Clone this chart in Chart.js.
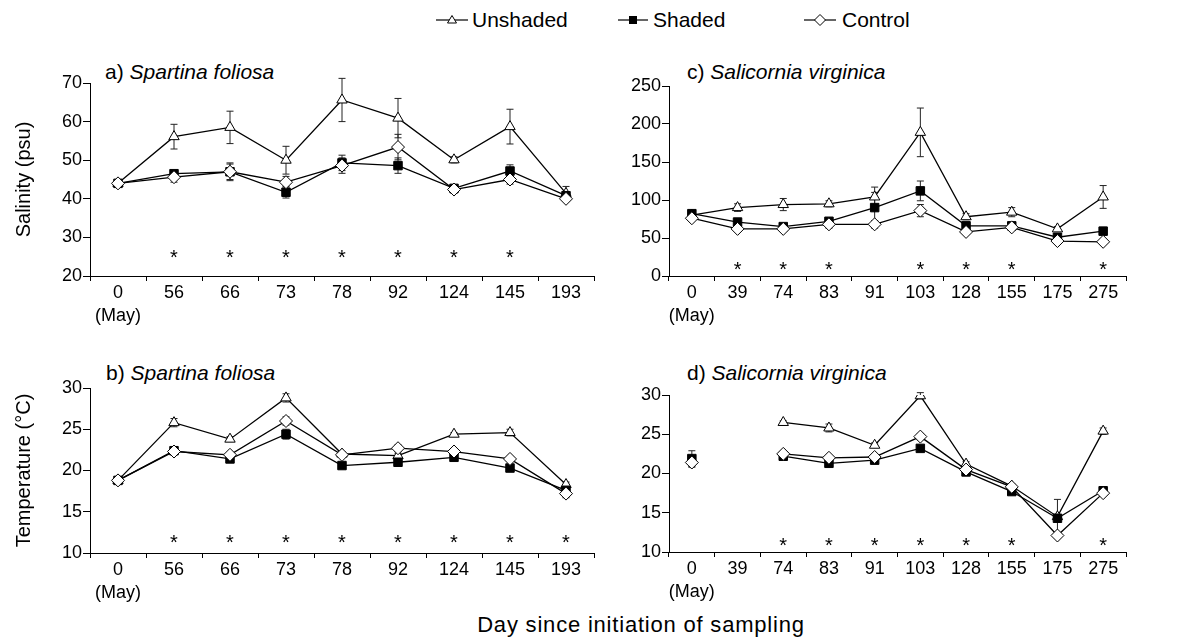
<!DOCTYPE html>
<html>
<head>
<meta charset="utf-8">
<script src="https://cdn.jsdelivr.net/npm/chart.js@4"></script>
<style>
  body { margin: 0; background: #fff; }
  #fig { position: relative; width: 1190px; height: 639px; font-family: 'Liberation Sans', Arial, sans-serif; color: #000; overflow: hidden; }
  .pane { position: absolute; }
  .ttl { position: absolute; font-size: 21px; line-height: 24px; white-space: nowrap; }
  .leg { position: absolute; top: 8px; font-size: 21px; line-height: 24px; white-space: nowrap; }
  .sym { position: absolute; top: 10px; }
  #xtitle { position: absolute; left: 341px; width: 600px; text-align: center; top: 613px; font-size: 22px; line-height: 24px; letter-spacing: 0.8px; white-space: nowrap; }
</style>
</head>
<body>
<div id="fig">
  <svg class="sym" style="left:436px" width="32" height="20"><line x1="0" y1="10" x2="32" y2="10" stroke="#000" stroke-width="1.2"/><polygon points="16,5.5 20.5,13 11.5,13" fill="#fff" stroke="#000" stroke-width="1"/></svg>
  <span class="leg" style="left:472px">Unshaded</span>
  <svg class="sym" style="left:618px" width="30" height="20"><line x1="0" y1="10" x2="30" y2="10" stroke="#000" stroke-width="1.2"/><rect x="11" y="6" width="8" height="8" fill="#000"/></svg>
  <span class="leg" style="left:653px">Shaded</span>
  <svg class="sym" style="left:804px" width="32" height="20"><line x1="0" y1="10" x2="32" y2="10" stroke="#000" stroke-width="1.2"/><polygon points="16,4.5 21.5,10 16,15.5 10.5,10" fill="#fff" stroke="#000" stroke-width="1"/></svg>
  <span class="leg" style="left:842px">Control</span>

  <div class="ttl" style="left:105px;top:60px">a) <i>Spartina foliosa</i></div>
  <div class="ttl" style="left:687px;top:60px">c) <i>Salicornia virginica</i></div>
  <div class="ttl" style="left:106px;top:361px">b) <i>Spartina foliosa</i></div>
  <div class="ttl" style="left:687px;top:361px">d) <i>Salicornia virginica</i></div>

  <div class="pane" style="left:0;top:60px"><canvas id="chA" width="615" height="270"></canvas></div>
  <div class="pane" style="left:600px;top:60px"><canvas id="chC" width="540" height="270"></canvas></div>
  <div class="pane" style="left:0;top:360px"><canvas id="chB" width="615" height="247"></canvas></div>
  <div class="pane" style="left:600px;top:360px"><canvas id="chD" width="540" height="246"></canvas></div>

  <div id="xtitle">Day since initiation of sampling</div>
</div>
<script>
// sampling days
const daysSpartina = ['0', '56', '66', '73', '78', '92', '124', '145', '193'];
const daysSalicornia = ['0', '39', '74', '83', '91', '103', '128', '155', '175', '275'];

// a) salinity, Spartina foliosa
const salSpUnshaded = [44, 56.1, 58.5, 50.0, 65.6, 60.9, 50.1, 58.7, 41.4];
const salSpUnshadedSE = [0.5, 3.2, 4.2, 3.6, 5.6, 5.1, 0.8, 4.5, 1.8];
const salSpShaded = [44, 46.5, 47.0, 41.7, 49.3, 48.6, 42.7, 47.2, 40.8];
const salSpShadedSE = [0.4, 0.8, 2.3, 1.5, 2.0, 2.0, 0.6, 1.6, 1.0];
const salSpControl = [44, 45.6, 47.0, 44.3, 48.6, 53.4, 42.4, 45.0, 40.0];
const salSpControlSE = [0.4, 1.3, 2.0, 1.5, 2.0, 3.3, 1.0, 1.2, 0.6];
const starsA = ['56', '66', '73', '78', '92', '124', '145'];

// c) salinity, Salicornia virginica
const salSaUnshaded = [80, 90, 94, 95, 104, 189, 78, 84, 62, 104];
const salSaUnshadedSE = [3, 5, 8, 4, 13, 32, 4, 6, 3, 15];
const salSaShaded = [82, 71, 65, 72, 90, 112, 66, 66, 51, 59];
const salSaShadedSE = [3, 4, 3, 3, 20, 13, 3, 3, 3, 5];
const salSaControl = [76, 62, 62, 68, 68, 86, 58, 64, 46, 45];
const salSaControlSE = [3, 3, 3, 5, 5, 8, 3, 3, 3, 3];
const starsC = ['39', '74', '83', '103', '128', '155', '275'];

// b) temperature, Spartina foliosa
const tmpSpUnshaded = [18.8, 25.8, 23.8, 28.8, 22.0, 21.8, 24.4, 24.6, 18.3];
const tmpSpUnshadedSE = [0.2, 0.5, 0.3, 0.5, 0.3, 0.3, 0.2, 0.4, 0.3];
const tmpSpShaded = [18.8, 22.4, 21.4, 24.4, 20.6, 21.0, 21.6, 20.3, 17.6];
const tmpSpShadedSE = [0.2, 0.3, 0.3, 0.6, 0.2, 0.2, 0.2, 0.2, 0.3];
const tmpSpControl = [18.8, 22.3, 21.9, 26.0, 21.9, 22.7, 22.3, 21.4, 17.2];
const tmpSpControlSE = [0.2, 0.3, 0.3, 0.5, 0.3, 0.4, 0.3, 0.3, 0.5];
const starsB = ['56', '66', '73', '78', '92', '124', '145', '193'];

// d) temperature, Salicornia virginica
const tmpSaUnshaded = [null, null, 26.5, 25.8, 23.6, 29.9, 21.2, 18.4, 14.5, 25.4];
const tmpSaUnshadedSE = [0, 0, 0.2, 0.5, 0.3, 0.4, 0.3, 0.3, 2.2, 0.4];
const tmpSaShaded = [21.9, null, 22.2, 21.3, 21.7, 23.2, 20.2, 17.7, 14.3, 17.8];
const tmpSaShadedSE = [1.0, 0, 0.2, 0.2, 0.2, 0.3, 0.2, 0.2, 0.4, 0.2];
const tmpSaControl = [21.4, null, 22.5, 22.0, 22.1, 24.7, 20.5, 18.3, 12.1, 17.5];
const tmpSaControlSE = [0.6, 0, 0.2, 0.2, 0.2, 0.4, 0.2, 0.2, 0.3, 0.2];
const starsD = ['74', '83', '91', '103', '128', '155', '275'];

const FONT = "'Liberation Sans', Arial, sans-serif";

// error bars under the markers, asterisks on top
const extras = {
    id: 'extras',
    beforeDatasetsDraw(chart) {
        const ctx = chart.ctx;
        const y = chart.scales.y;
        ctx.save();
        ctx.strokeStyle = '#222';
        ctx.lineWidth = 1;
        chart.data.datasets.forEach((ds, di) => {
            const meta = chart.getDatasetMeta(di);
            ds.data.forEach((v, i) => {
                if (v == null || !ds.se || !ds.se[i]) return;
                const x = meta.data[i].x;
                const y1 = y.getPixelForValue(v + ds.se[i]);
                const y2 = y.getPixelForValue(v - ds.se[i]);
                ctx.beginPath();
                ctx.moveTo(x, y1); ctx.lineTo(x, y2);
                ctx.moveTo(x - 3.5, y1); ctx.lineTo(x + 3.5, y1);
                ctx.moveTo(x - 3.5, y2); ctx.lineTo(x + 3.5, y2);
                ctx.stroke();
            });
        });
        ctx.restore();
    },
    afterDatasetsDraw(chart, args, opts) {
        if (!opts.stars) return;
        const ctx = chart.ctx;
        ctx.save();
        ctx.fillStyle = '#000';
        ctx.font = '20px ' + FONT;
        ctx.textAlign = 'center';
        ctx.textBaseline = 'alphabetic';
        const labels = chart.data.labels.map(l => Array.isArray(l) ? l[0] : l);
        opts.stars.forEach(d => {
            const x = chart.scales.x.getPixelForValue(labels.indexOf(d));
            const y = chart.scales.y.getPixelForValue(opts.level);
            ctx.fillText('*', x, y + 11);
        });
        ctx.restore();
    }
};

function makePanel(id, days, control, controlSE, shaded, shadedSE, unshaded, unshadedSE, cfg) {
    const labels = days.map((d, i) => i === 0 ? [d, '(May)'] : d);
    const common = { borderColor: '#000', borderWidth: 1.3, pointBorderColor: '#000', pointBorderWidth: 1, spanGaps: false };
    new Chart(document.getElementById(id), {
        type: 'line',
        data: {
            labels: labels,
            datasets: [
                Object.assign({ label: 'Control', data: control, se: controlSE, pointStyle: 'rectRot', pointRadius: 6.5, pointBackgroundColor: '#fff' }, common),
                Object.assign({ label: 'Shaded', data: shaded, se: shadedSE, pointStyle: 'rect', pointRadius: 6, pointBackgroundColor: '#000' }, common),
                Object.assign({ label: 'Unshaded', data: unshaded, se: unshadedSE, pointStyle: 'triangle', pointRadius: 6, pointBackgroundColor: '#fff' }, common)
            ]
        },
        options: {
            responsive: false,
            animation: false,
            layout: { padding: cfg.padding },
            plugins: {
                legend: { display: false },
                tooltip: { enabled: false },
                extras: { stars: cfg.stars, level: cfg.starLevel }
            },
            scales: {
                x: {
                    type: 'category',
                    offset: true,
                    grid: { offset: true, drawOnChartArea: false, tickLength: 5, color: '#000' },
                    border: { color: '#000', width: 1 },
                    ticks: { color: '#000', padding: 1, font: { family: FONT, size: 18, lineHeight: 1.25 }, maxRotation: 0, autoSkip: false },
                    afterFit: s => { s.height = 54; }
                },
                y: {
                    min: cfg.min, max: cfg.max,
                    grid: { drawOnChartArea: false, tickLength: 7, color: '#000' },
                    border: { color: '#000', width: 1 },
                    ticks: { color: '#000', stepSize: cfg.step, padding: 1, font: { family: FONT, size: 18 } },
                    title: { display: !!cfg.yTitle, text: cfg.yTitle, color: '#000', font: { family: FONT, size: 20 }, padding: { top: 12, bottom: 0 } },
                    afterFit: s => { s.width = cfg.yWidth; }
                }
            }
        },
        plugins: [extras]
    });
}

makePanel('chA', daysSpartina, salSpControl, salSpControlSE, salSpShaded, salSpShadedSE, salSpUnshaded, salSpUnshadedSE,
    { min: 20, max: 70, step: 10, yTitle: 'Salinity (psu)', yWidth: 90, padding: { top: 23, right: 21, left: 0, bottom: 0 }, stars: starsA, starLevel: 26 });
makePanel('chC', daysSalicornia, salSaControl, salSaControlSE, salSaShaded, salSaShadedSE, salSaUnshaded, salSaUnshadedSE,
    { min: 0, max: 250, step: 50, yWidth: 69, padding: { top: 26, right: 14, left: 0, bottom: 0 }, stars: starsC, starLevel: 14 });
makePanel('chB', daysSpartina, tmpSpControl, tmpSpControlSE, tmpSpShaded, tmpSpShadedSE, tmpSpUnshaded, tmpSpUnshadedSE,
    { min: 10, max: 30, step: 5, yTitle: 'Temperature (°C)', yWidth: 90, padding: { top: 28, right: 21, left: 0, bottom: 0 }, stars: starsB, starLevel: 11.8 });
makePanel('chD', daysSalicornia, tmpSaControl, tmpSaControlSE, tmpSaShaded, tmpSaShadedSE, tmpSaUnshaded, tmpSaUnshadedSE,
    { min: 10, max: 30, step: 5, yWidth: 69, padding: { top: 35, right: 14, left: 0, bottom: 0 }, stars: starsD, starLevel: 11.4 });
</script>
</body>
</html>
